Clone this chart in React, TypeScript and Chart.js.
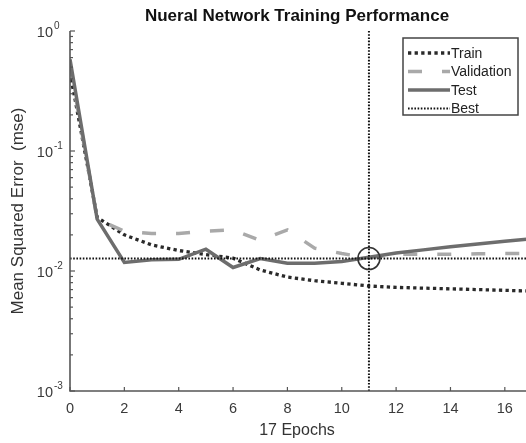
import React, { useEffect, useRef } from "react";
import { Chart, registerables } from "chart.js";

Chart.register(...registerables);

const epochs = [0, 1, 2, 3, 4, 5, 6, 7, 8, 9, 10, 11, 12, 13, 14, 15, 16, 17];
const trainMse = [0.45, 0.028, 0.02, 0.0165, 0.0148, 0.0137, 0.0128, 0.0102, 0.0089, 0.0083, 0.0079, 0.0075, 0.0073, 0.0072, 0.0071, 0.007, 0.0069, 0.0068];
const validationMse = [0.52, 0.027, 0.0215, 0.0205, 0.0205, 0.0215, 0.022, 0.018, 0.022, 0.0155, 0.014, 0.0128, 0.0138, 0.0138, 0.0138, 0.0139, 0.014, 0.014];
const testMse = [0.58, 0.027, 0.0118, 0.0124, 0.0125, 0.0152, 0.0107, 0.0127, 0.0116, 0.0116, 0.012, 0.013, 0.0141, 0.015, 0.0159, 0.0168, 0.0177, 0.0186];
const bestEpoch = 11;
const bestMse = 0.0127;
const xTicks = [0, 2, 4, 6, 8, 10, 12, 14, 16];
const yDecades = [-3, -2, -1, 0];
const legendLabels = ["Train", "Validation", "Test", "Best"];
const titleText = "Nueral Network Training Performance";
const xLabel = "17 Epochs";
const yLabel = "Mean Squared Error  (mse)";

const FONT = '"Liberation Sans", Arial, sans-serif';

const styles = [
  { color: "#2a2a2a", width: 3.3, dash: [3.3, 3.3] },
  { color: "#a9a9a9", width: 3.5, dash: [14, 20] },
  { color: "#6d6d6d", width: 3.5, dash: [] as number[] },
  { color: "#111111", width: 2, dash: [1.6, 1.6] },
];

const axesPlugin = {
  id: "matlabAxes",
  afterDraw(chart: any) {
    const ctx = chart.ctx as CanvasRenderingContext2D;
    const xs = chart.scales.x;
    const ys = chart.scales.y;
    const { left, right, top, bottom } = chart.chartArea;
    ctx.save();
    // axes lines
    ctx.strokeStyle = "#555";
    ctx.lineWidth = 1.6;
    ctx.setLineDash([]);
    ctx.beginPath();
    ctx.moveTo(left, top);
    ctx.lineTo(left, bottom);
    ctx.lineTo(right, bottom);
    ctx.stroke();
    // x ticks
    ctx.lineWidth = 1.2;
    ctx.fillStyle = "#3a3a3a";
    ctx.font = `14.5px ${FONT}`;
    ctx.textAlign = "center";
    ctx.textBaseline = "middle";
    xTicks.forEach((t) => {
      const px = xs.getPixelForValue(t);
      ctx.beginPath();
      ctx.moveTo(px, bottom);
      ctx.lineTo(px, bottom - 4);
      ctx.stroke();
      ctx.fillText(String(t), px, bottom + 18);
    });
    // y ticks
    yDecades.forEach((d) => {
      const base = Math.pow(10, d);
      const py = ys.getPixelForValue(base);
      ctx.beginPath();
      ctx.moveTo(left, py);
      ctx.lineTo(left + 5, py);
      ctx.stroke();
      if (d < 0) {
        for (let k = 2; k <= 9; k++) {
          const my = ys.getPixelForValue(k * base);
          ctx.beginPath();
          ctx.moveTo(left, my);
          ctx.lineTo(left + 3, my);
          ctx.stroke();
        }
      }
      ctx.font = `14.5px ${FONT}`;
      ctx.textAlign = "right";
      ctx.textBaseline = "middle";
      ctx.fillText("10", left - 17, py + 2);
      ctx.font = `10px ${FONT}`;
      ctx.textAlign = "left";
      ctx.fillText(String(d), left - 16, py - 5);
    });
    // title
    ctx.fillStyle = "#111";
    ctx.font = `bold 17px ${FONT}`;
    ctx.textAlign = "center";
    ctx.textBaseline = "middle";
    ctx.fillText(titleText, 297, 16);
    // x label
    ctx.fillStyle = "#333";
    ctx.font = `16px ${FONT}`;
    ctx.fillText(xLabel, 297, 431);
    // y label
    ctx.save();
    ctx.font = `17px ${FONT}`;
    ctx.translate(18, (top + bottom) / 2);
    ctx.rotate(-Math.PI / 2);
    ctx.fillText(yLabel, 0, 0);
    ctx.restore();
    // legend
    const bx = 403, by = 38, bw = 115, bh = 77;
    ctx.fillStyle = "#fff";
    ctx.fillRect(bx, by, bw, bh);
    ctx.strokeStyle = "#444";
    ctx.lineWidth = 1.5;
    ctx.strokeRect(bx, by, bw, bh);
    const rows = [53, 71.5, 90, 108.5];
    legendLabels.forEach((lab, i) => {
      const s = styles[i];
      ctx.strokeStyle = s.color;
      ctx.lineWidth = s.width;
      ctx.setLineDash(s.dash);
      ctx.beginPath();
      ctx.moveTo(408, rows[i]);
      ctx.lineTo(450, rows[i]);
      ctx.stroke();
      ctx.setLineDash([]);
      ctx.fillStyle = "#222";
      ctx.font = `14px ${FONT}`;
      ctx.textAlign = "left";
      ctx.textBaseline = "middle";
      ctx.fillText(lab, 451, rows[i] + 1);
    });
    ctx.restore();
  },
};

const bgPlugin = {
  id: "bg",
  beforeDraw(chart: any) {
    const ctx = chart.ctx;
    ctx.save();
    ctx.fillStyle = "#fff";
    ctx.fillRect(0, 0, chart.width, chart.height);
    ctx.restore();
  },
};

export default function App() {
  const ref = useRef<HTMLCanvasElement | null>(null);
  useEffect(() => {
    document.body.style.margin = "0";
    document.body.style.overflow = "hidden";
    if (!ref.current) return;
    const toXY = (arr: number[]) => epochs.map((e, i) => ({ x: e, y: arr[i] }));
    const line = (label: string, arr: any[], s: any, order: number) => ({
      label,
      data: arr,
      borderColor: s.color,
      borderWidth: s.width,
      borderDash: s.dash,
      pointRadius: 0,
      fill: false,
      tension: 0,
      order,
    });
    const chart = new Chart(ref.current, {
      type: "line",
      data: {
        datasets: [
          line("Train", toXY(trainMse), styles[0], 4),
          line("Validation", toXY(validationMse), styles[1], 3),
          line("Test", toXY(testMse), styles[2], 2),
          line("BestV", [{ x: bestEpoch, y: 0.001 }, { x: bestEpoch, y: 1 }], styles[3], 1),
          line("BestH", [{ x: 0, y: bestMse }, { x: 17, y: bestMse }], styles[3], 1),
          {
            label: "BestPoint",
            data: [{ x: bestEpoch, y: bestMse }],
            showLine: false,
            pointRadius: 11,
            pointBorderWidth: 1.6,
            pointBorderColor: "#333",
            pointBackgroundColor: "rgba(0,0,0,0)",
            borderColor: "#333",
            order: 0,
          } as any,
        ],
      },
      options: {
        responsive: false,
        animation: false,
        layout: { padding: { left: 70, top: 31, right: 8, bottom: 52 }, autoPadding: false } as any,
        plugins: { legend: { display: false }, tooltip: { enabled: false }, title: { display: false } },
        scales: {
          x: { type: "linear", min: 0, max: 17, display: false },
          y: { type: "logarithmic", min: 0.001, max: 1, display: false },
        },
      },
      plugins: [bgPlugin, axesPlugin],
    });
    return () => chart.destroy();
  }, []);
  return (
    <div style={{ position: "absolute", left: 0, top: 0, width: 526, height: 443, overflow: "hidden", background: "#fff" }}>
      <canvas ref={ref} width={540} height={443} style={{ width: 540, height: 443, display: "block" }} />
    </div>
  );
}
